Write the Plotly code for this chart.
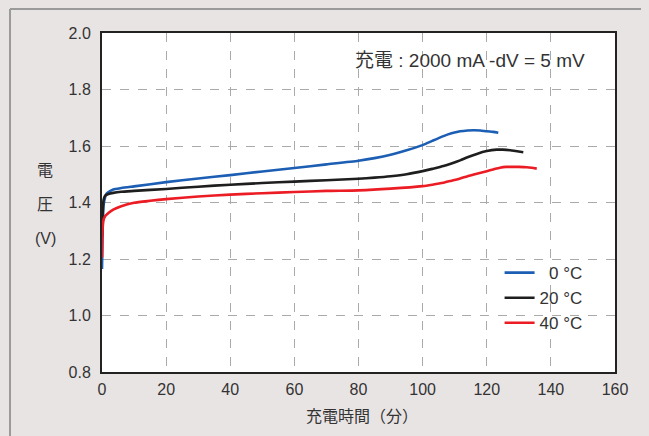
import plotly.graph_objects as go

# ---- data ----
t_0c = [0, 0.2, 0.5, 1, 1.5, 2.5, 3.5, 6, 10, 20, 30, 40, 50, 60, 70, 80, 85, 90, 95, 100, 103, 106.5, 109, 111.7, 114, 116, 118, 120, 122, 123.6]
v_0c = [1.165, 1.30, 1.39, 1.420, 1.432, 1.440, 1.446, 1.451, 1.457, 1.472, 1.485, 1.497, 1.510, 1.522, 1.535, 1.548, 1.557, 1.569, 1.585, 1.603, 1.618, 1.635, 1.645, 1.652, 1.655, 1.656, 1.655, 1.652, 1.650, 1.647]

t_20c = [0, 0.2, 0.5, 1, 2, 3.5, 6, 10, 20, 30, 40, 50, 60, 70, 80, 85, 90, 95, 100, 103, 106.5, 109, 111.7, 114, 116.9, 120, 123.1, 125, 127.3, 129, 131.4]
v_20c = [1.28, 1.36, 1.41, 1.424, 1.430, 1.434, 1.438, 1.441, 1.448, 1.456, 1.463, 1.469, 1.474, 1.479, 1.484, 1.488, 1.493, 1.500, 1.511, 1.519, 1.529, 1.538, 1.549, 1.560, 1.572, 1.582, 1.587, 1.587, 1.585, 1.582, 1.578]

t_40c = [0, 0.15, 0.4, 1, 2, 3.5, 6, 10, 15, 20, 30, 40, 50, 60, 70, 80, 90, 100, 103, 106.5, 109, 111.7, 114, 116.9, 120, 122, 124.1, 126, 128.3, 130, 132.5, 134, 135.6]
v_40c = [1.205, 1.30, 1.335, 1.352, 1.363, 1.375, 1.387, 1.399, 1.406, 1.412, 1.421, 1.428, 1.433, 1.437, 1.441, 1.443, 1.449, 1.458, 1.463, 1.470, 1.477, 1.485, 1.493, 1.502, 1.511, 1.517, 1.523, 1.526, 1.526, 1.526, 1.525, 1.523, 1.520]

series_names = ["\u20070 °C", "20 °C", "40 °C"]
series_colors = ["#1c5eb3", "#1e1e1e", "#ec1c24"]

x_ticks = [0, 20, 40, 60, 80, 100, 120, 140, 160]
y_ticks = [0.8, 1.0, 1.2, 1.4, 1.6, 1.8, 2.0]

note_text = "充電 : 2000 mA -dV = 5 mV"
x_title = "充電時間（分）"
y_title_parts = ["電", "圧", "(V)"]

FONT = "Liberation Sans, Arial, Noto Sans CJK JP, sans-serif"
TXT = "#333333"
BG = "#e9e4e4"

fig = go.Figure()
for t, v, n, c in zip([t_0c, t_20c, t_40c], [v_0c, v_20c, v_40c], series_names, series_colors):
    fig.add_trace(go.Scatter(x=t, y=v, mode="lines", name=n,
                             line=dict(color=c, width=2.6, shape="spline", smoothing=0.6)))

fig.update_layout(
    width=649, height=436,
    margin=dict(l=94, r=42, t=25, b=72),
    paper_bgcolor=BG,
    plot_bgcolor="#ffffff",
    font=dict(family=FONT, size=16, color=TXT),
    showlegend=True,
    legend=dict(x=0.775, y=0.345, xanchor="left", yanchor="top",
                bgcolor="rgba(0,0,0,0)", font=dict(size=17, color=TXT),
                tracegroupgap=0, itemwidth=30),
)
fig.update_xaxes(range=[0, 160], tickvals=x_ticks, ticktext=[str(v) for v in x_ticks],
                 showline=True, mirror=True, linecolor="#222222", linewidth=2,
                 showgrid=True, gridcolor="#aaaaaa", griddash="dash", gridwidth=1,
                 zeroline=False, ticks="", ticklabelstandoff=2, fixedrange=True)
fig.update_yaxes(range=[0.8, 2.0], tickvals=y_ticks, ticktext=[f"{v:.1f}" for v in y_ticks],
                 showline=True, mirror=True, linecolor="#222222", linewidth=2,
                 showgrid=True, gridcolor="#aaaaaa", griddash="dash", gridwidth=1,
                 zeroline=False, ticks="", ticklabelstandoff=6, fixedrange=True)

# outer card border (top and left edges only)
fig.add_shape(type="line", xref="paper", yref="paper",
              x0=-0.1793, y0=1.0708, x1=1.2, y1=1.0708,
              line=dict(color="#9a9a9a", width=2), layer="below")
fig.add_shape(type="line", xref="paper", yref="paper",
              x0=-0.1793, y0=1.0708, x1=-0.1793, y1=-0.3,
              line=dict(color="#9a9a9a", width=2), layer="below")

fig.add_annotation(text=note_text, xref="paper", yref="paper", x=0.717, y=0.920,
                   xanchor="center", yanchor="middle",
                   showarrow=False, font=dict(size=19, color=TXT))
fig.add_annotation(text=x_title, xref="paper", yref="paper", x=0.506, y=-0.1327,
                   xanchor="center", yanchor="middle",
                   showarrow=False, font=dict(size=16, color=TXT))
for part, yy in zip(y_title_parts, [0.594, 0.493, 0.395]):
    fig.add_annotation(text=part, xref="paper", yref="paper", x=-0.111, y=yy,
                       xanchor="center", yanchor="middle",
                       showarrow=False, font=dict(size=16, color=TXT))

fig.write_html("out.html",
               post_script=f"document.body.style.background='{BG}';document.body.style.overflow='hidden';")
